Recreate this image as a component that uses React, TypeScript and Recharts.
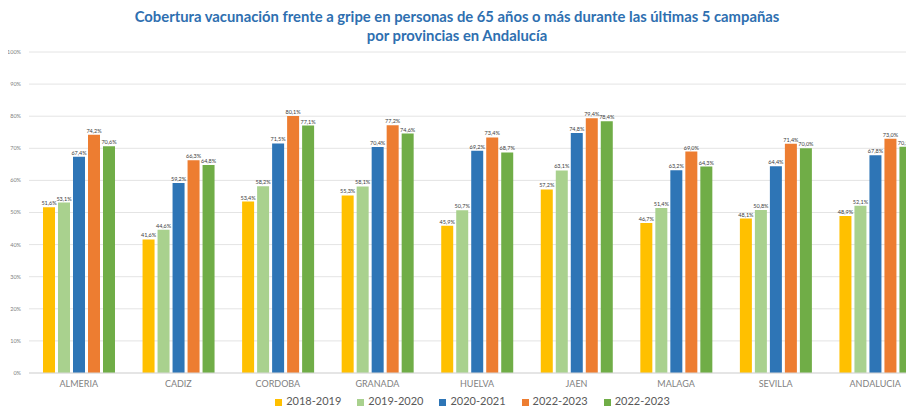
import { BarChart, Bar, XAxis, YAxis, CartesianGrid, Legend, LabelList } from 'recharts';

const provincias = ['ALMERIA', 'CADIZ', 'CORDOBA', 'GRANADA', 'HUELVA', 'JAEN', 'MALAGA', 'SEVILLA', 'ANDALUCIA'];

const c2018 = [51.6, 41.6, 53.4, 55.3, 45.9, 57.2, 46.7, 48.1, 48.9];
const c2019 = [53.1, 44.6, 58.2, 58.1, 50.7, 63.1, 51.4, 50.8, 52.1];
const c2020 = [67.4, 59.2, 71.5, 70.4, 69.2, 74.8, 63.2, 64.4, 67.8];
const c2022a = [74.2, 66.3, 80.1, 77.2, 73.4, 79.4, 69.0, 71.4, 73.0];
const c2022b = [70.6, 64.8, 77.1, 74.6, 68.7, 78.4, 64.3, 70.0, 70.5];

const yTicks = [0, 10, 20, 30, 40, 50, 60, 70, 80, 90, 100];

const series = [
  { key: 'c2018', name: '2018-2019', color: '#FFC000' },
  { key: 'c2019', name: '2019-2020', color: '#A9D18E' },
  { key: 'c2020', name: '2020-2021', color: '#2E75B6' },
  { key: 'c2022a', name: '2022-2023', color: '#ED7D31' },
  { key: 'c2022b', name: '2022-2023', color: '#70AD47' },
];

const data = provincias.map((p, i) => ({
  name: p,
  c2018: c2018[i],
  c2019: c2019[i],
  c2020: c2020[i],
  c2022a: c2022a[i],
  c2022b: c2022b[i],
}));

const pct = (v: any) => Number(v).toFixed(1).replace('.', ',') + '%';

export default function App() {
  return (
    <div style={{ position: 'relative', width: 914, height: 412, margin: '-8px 0 0 -8px', overflow: 'hidden', background: '#fff', fontFamily: 'Lato' }}>
      <div style={{ position: 'absolute', top: 7, left: 0, width: 914, textAlign: 'center', color: '#2E6FB0', fontWeight: 700, fontSize: 14.8, lineHeight: '19px', zIndex: 2 }}>
        Cobertura vacunación frente a gripe en personas de 65 años o más durante las últimas 5 campañas
        <br />
        por provincias en Andalucía
      </div>
      <BarChart
        width={930}
        height={412}
        data={data}
        margin={{ top: 52, right: 5, bottom: 8, left: 0 }}
        barSize={12}
        barGap={3}
      >
        <CartesianGrid vertical={false} stroke="#E4E4E4" />
        <XAxis
          dataKey="name"
          height={18}
          tickLine={false}
          axisLine={{ stroke: '#D9D9D9' }}
          tick={{ fontSize: 9, fill: '#7F7F7F' }}
          interval={0}
        />
        <YAxis
          width={29}
          domain={[0, 100]}
          ticks={yTicks}
          tickFormatter={(v) => v + '%'}
          tickLine={false}
          axisLine={false}
          tick={{ fontSize: 5.5, fill: '#7F7F7F' }}
        />
        <Legend
          iconType="square"
          iconSize={7}
          wrapperStyle={{ top: 394, left: 18, fontSize: 11 }}
          formatter={(v) => <span style={{ color: '#595959', marginRight: 6 }}>{v}</span>}
        />
        {series.map((s) => (
          <Bar key={s.key} dataKey={s.key} name={s.name} fill={s.color} isAnimationActive={false}>
            <LabelList dataKey={s.key} position="top" offset={2} formatter={pct} style={{ fontSize: 5.5, fill: '#404040' }} />
          </Bar>
        ))}
      </BarChart>
    </div>
  );
}
